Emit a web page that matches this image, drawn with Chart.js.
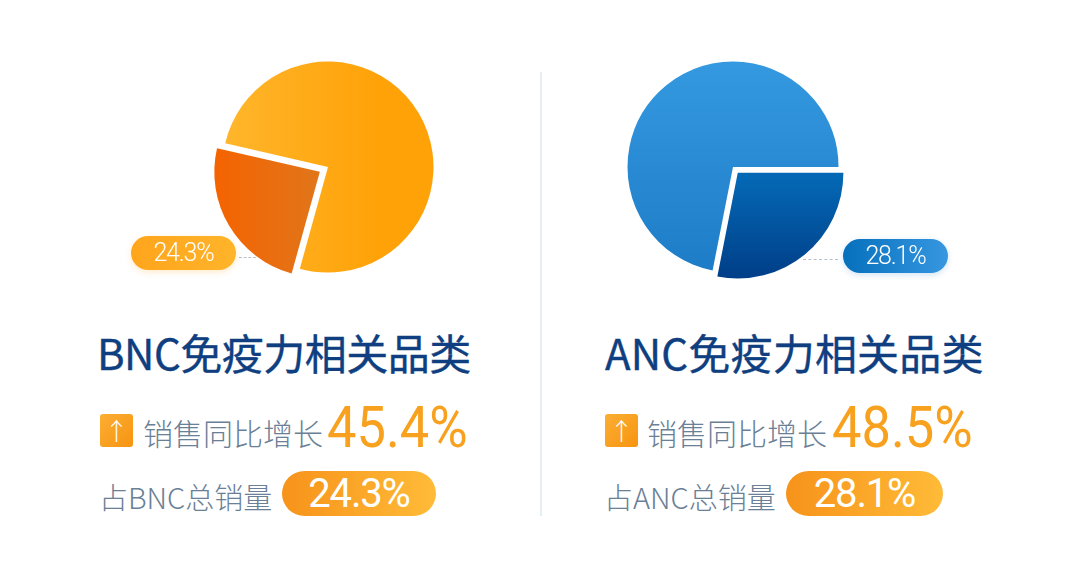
<!DOCTYPE html>
<html lang="zh-CN">
<head>
<meta charset="utf-8">
<title>BNC / ANC 免疫力相关品类</title>
<script src="https://cdn.jsdelivr.net/npm/chart.js@4"></script>
<style>
  html, body { margin: 0; padding: 0; background: #fff; }
  #page { position: relative; width: 1080px; height: 578px; overflow: hidden;
    font-family: "Noto Sans CJK SC", "Noto Sans", sans-serif; }
  #page > * { position: absolute; white-space: nowrap; }
  canvas { width: 260px; height: 260px; }
  .divider { left: 540px; top: 72px; width: 2px; height: 444px; background: #e3eff4; }
  .title { top: 322px; height: 60px; line-height: 60px; font-size: 42px; font-weight: 400; color: #0f3f80; letter-spacing: -0.5px; -webkit-text-stroke: 0.4px #0f3f80; }
  .label { font-size: 30px; line-height: 40px; height: 40px; font-weight: 300; color: #6a8096; }
  .label.small { font-size: 29px; }
  .growth { top: 395px; height: 66px; line-height: 66px; font-family: Roboto, sans-serif; font-weight: 400; font-size: 57px; color: #f7a11e;
    transform: scaleX(0.92); transform-origin: left center; }
  .icon { top: 414px; width: 33px; height: 33px; line-height: 32px; text-align: center; border-radius: 3px;
    background: linear-gradient(135deg, #fbae34, #f79410); color: #fff; font-size: 24px; font-weight: 300; }
  .share { top: 471px; height: 45px; line-height: 45px; border-radius: 23px; text-align: center; color: #fff;
    font-family: Roboto, sans-serif; font-weight: 400; font-size: 40px; letter-spacing: -1.2px; background: linear-gradient(90deg, #f7931a, #ffbb38); }
  .badge { width: 105px; height: 34px; line-height: 34px; border-radius: 17px; text-align: center; color: #fff;
    font-family: Roboto, sans-serif; font-weight: 300; font-size: 25px; letter-spacing: -1.2px; }
  .badge.warm { left: 131px; top: 236px; background: linear-gradient(90deg, #ffa51c, #ffb42a); box-shadow: 0 2px 6px rgba(255,170,40,.25); }
  .badge.cool { left: 843px; top: 239px; background: linear-gradient(90deg, #0670bc, #3797e0); box-shadow: 0 2px 6px rgba(30,120,200,.2); }
  .leader { height: 0; border-top: 1px dashed #b9c2cc; }
</style>
</head>
<body>
<div id="page">
  <canvas id="bncPie" width="260" height="260" style="left:197.5px;top:36.5px"></canvas>
  <canvas id="ancPie" width="260" height="260" style="left:602.5px;top:36.5px"></canvas>
  <div class="divider"></div>

  <div class="leader" style="left:239px;top:257px;width:17px"></div>
  <div class="badge warm" id="bncBadge"></div>
  <div class="leader" style="left:803px;top:259px;width:35px"></div>
  <div class="badge cool" id="ancBadge"></div>

  <div class="title" style="left:97px" id="bncTitle"></div>
  <div class="icon" style="left:100px">↑</div>
  <div class="label" style="left:143px;top:412px" id="bncGrowthLabel"></div>
  <div class="growth" style="left:327px" id="bncGrowth"></div>
  <div class="label small" style="left:99px;top:476px" id="bncShareLabel"></div>
  <div class="share" style="left:282px;width:154px" id="bncShare"></div>

  <div class="title" style="left:605px;letter-spacing:0.2px" id="ancTitle"></div>
  <div class="icon" style="left:605px">↑</div>
  <div class="label" style="left:647px;top:412px" id="ancGrowthLabel"></div>
  <div class="growth" style="left:832px" id="ancGrowth"></div>
  <div class="label small" style="left:604px;top:476px" id="ancShareLabel"></div>
  <div class="share" style="left:786px;width:157px" id="ancShare"></div>
</div>

<script>
// 数据
const sliceLabels = ["免疫力相关品类", "其他品类"];
const bncValues = [24.3, 75.7];
const ancValues = [28.1, 71.9];
const growthValues = [45.4, 48.5];
const titles = ["BNC免疫力相关品类", "ANC免疫力相关品类"];
const shareLabels = ["占BNC总销量", "占ANC总销量"];
const growthLabel = "销售同比增长";

const pct = v => v.toFixed(1) + "%";
const setText = (id, text) => { document.getElementById(id).textContent = text; };

// 渐变：x0,y0 -> x1,y1，坐标为画布内像素
function gradient(chart, x0, y0, x1, y1, from, to) {
  const g = chart.ctx.createLinearGradient(x0, y0, x1, y1);
  g.addColorStop(0, from);
  g.addColorStop(1, to);
  return g;
}

// offset 在 Chart.js 内部会除以 4
function drawPie(id, values, rotation, offset, colors) {
  return new Chart(document.getElementById(id), {
    type: "pie",
    data: {
      labels: sliceLabels,
      datasets: [{
        data: values,
        borderWidth: 0,
        offset: [offset, 0],
        backgroundColor: c => colors(c.chart)[c.dataIndex]
      }]
    },
    options: {
      responsive: false,
      animation: false,
      radius: 105.5,
      rotation: rotation,
      plugins: { legend: { display: false }, tooltip: { enabled: false } }
    }
  });
}

drawPie("bncPie", bncValues, 195.5, 38, ch => [
  gradient(ch, 20, 0, 130, 0, "#f66200", "#e0761a"),
  gradient(ch, 25, 0, 180, 0, "#ffb62c", "#ffa208")
]);
drawPie("ancPie", ancValues, 90, 30, ch => [
  gradient(ch, 0, 135, 0, 245, "#0468b4", "#003a84"),
  gradient(ch, 0, 25, 0, 235, "#3499e0", "#1e7cc7")
]);

// 文字
setText("bncTitle", titles[0]);
setText("ancTitle", titles[1]);
setText("bncGrowthLabel", growthLabel);
setText("ancGrowthLabel", growthLabel);
setText("bncShareLabel", shareLabels[0]);
setText("ancShareLabel", shareLabels[1]);
setText("bncGrowth", pct(growthValues[0]));
setText("ancGrowth", pct(growthValues[1]));
setText("bncShare", pct(bncValues[0]));
setText("ancShare", pct(ancValues[0]));
setText("bncBadge", pct(bncValues[0]));
setText("ancBadge", pct(ancValues[0]));
</script>
</body>
</html>
